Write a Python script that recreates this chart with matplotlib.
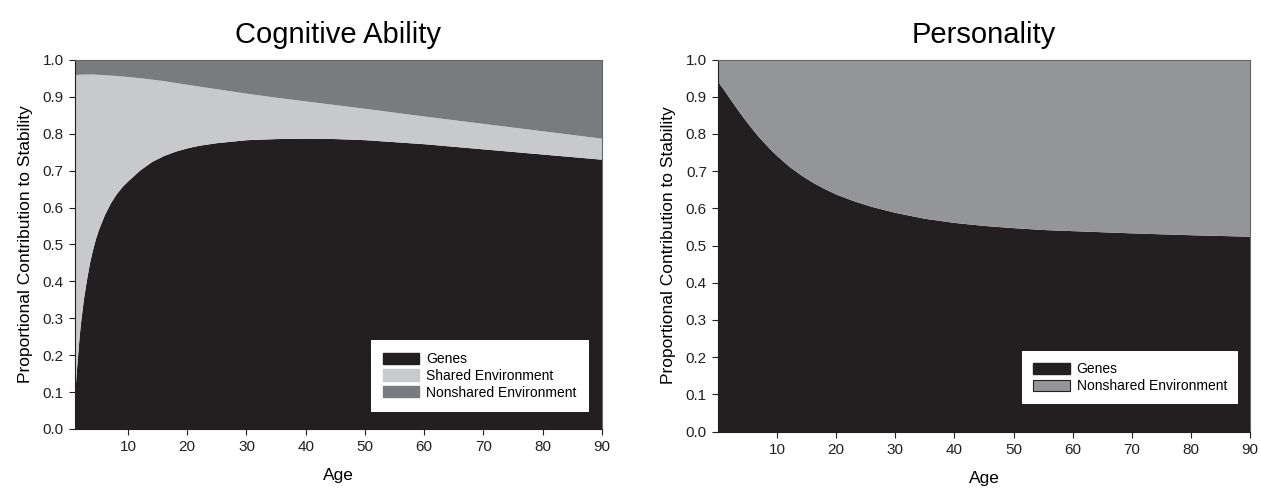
import matplotlib
matplotlib.use("Agg")
import matplotlib.pyplot as plt
from matplotlib.patches import Patch
import numpy as np

# ---- Data: Cognitive Ability ----
cog_age = [1, 1.25, 1.5, 1.75, 2, 2.5, 3, 3.5, 4, 4.5, 5, 6, 7, 8, 9, 10, 12, 14, 16, 18, 20,
           22, 25, 30, 35, 40, 45, 50, 60, 70, 80, 90]
cog_genes = [0.09, 0.15, 0.20, 0.25, 0.29, 0.355, 0.405, 0.45, 0.485, 0.515, 0.54, 0.58, 0.612,
             0.637, 0.657, 0.673, 0.702, 0.725, 0.741, 0.753, 0.762,
             0.769, 0.776, 0.784, 0.787, 0.788, 0.787, 0.784, 0.773, 0.759, 0.745, 0.731]
cog_genes_shared = [0.960, 0.9605, 0.961, 0.9613, 0.9615, 0.962, 0.962, 0.962, 0.962, 0.9615,
                    0.961, 0.960, 0.959, 0.958, 0.9565, 0.955, 0.952, 0.948, 0.944, 0.939, 0.934,
                    0.929, 0.922, 0.910, 0.899, 0.889, 0.879, 0.869, 0.848, 0.828, 0.808, 0.788]

# ---- Data: Personality ----
per_age = [0, 1, 2, 3, 4, 5, 6, 7, 8, 9, 10, 12, 14, 16, 18, 20, 23, 26, 30, 35, 40, 45, 50,
           55, 60, 70, 80, 90]
per_genes = [0.940, 0.918, 0.895, 0.872, 0.850, 0.829, 0.809, 0.790, 0.773, 0.756, 0.741, 0.713,
             0.690, 0.670, 0.653, 0.638, 0.620, 0.605, 0.589, 0.573, 0.562, 0.554, 0.548,
             0.543, 0.540, 0.534, 0.529, 0.525]

cog_labels = ["Genes", "Shared Environment", "Nonshared Environment"]
per_labels = ["Genes", "Nonshared Environment"]
x_ticks = [10, 20, 30, 40, 50, 60, 70, 80, 90]
y_ticks = [0.0, 0.1, 0.2, 0.3, 0.4, 0.5, 0.6, 0.7, 0.8, 0.9, 1.0]

BLACK = "#231f20"
LIGHT = "#c8c9cb"
DARK = "#7a7b7f"
MID = "#939598"

plt.rcParams['font.family'] = ['Liberation Sans', 'DejaVu Sans']

fig = plt.figure(figsize=(12.61, 4.94), dpi=100)
ax1 = fig.add_axes([0.0592, 0.1316, 0.4182, 0.747])
ax2 = fig.add_axes([0.5694, 0.1265, 0.4219, 0.753])


def style(ax, xmin):
    ax.set_xlim(xmin, 90)
    ax.set_ylim(0, 1.0)
    ax.set_xticks(x_ticks)
    ax.set_yticks(y_ticks)
    ax.set_yticklabels([f"{v:.1f}" for v in y_ticks])
    ax.tick_params(direction="out", length=4, width=0.8, labelsize=11, colors="#231f20", pad=4)
    for s in ["top", "right"]:
        ax.spines[s].set_color("#666666")
        ax.spines[s].set_linewidth(0.8)
    for s in ["left", "bottom"]:
        ax.spines[s].set_color("#231f20")
        ax.spines[s].set_linewidth(0.8)
    ax.set_xlabel("Age", fontsize=12.5, labelpad=10)
    ax.set_ylabel("Proportional Contribution to Stability", fontsize=12.5, labelpad=7)


# Cognitive ability
ax1.fill_between(cog_age, 0, cog_genes, color=BLACK, lw=0)
ax1.fill_between(cog_age, cog_genes, cog_genes_shared, color=LIGHT, lw=0)
ax1.fill_between(cog_age, cog_genes_shared, 1.0, color=DARK, lw=0)
style(ax1, 1)
ax1.set_title("Cognitive Ability", fontsize=21, pad=12)
h1 = [Patch(facecolor=BLACK, edgecolor=BLACK), Patch(facecolor=LIGHT, edgecolor=LIGHT),
      Patch(facecolor=DARK, edgecolor=DARK)]
leg1 = ax1.legend(h1, cog_labels, loc="lower right", bbox_to_anchor=(0.9885, 0.027),
                  fontsize=10, frameon=True, fancybox=False, framealpha=1,
                  edgecolor="white", handlelength=2.6, handleheight=0.85,
                  borderpad=0.9, labelspacing=0.2, handletextpad=0.5)

# Personality
ax2.fill_between(per_age, 0, per_genes, color=BLACK, lw=0)
ax2.fill_between(per_age, per_genes, 1.0, color=MID, lw=0)
style(ax2, 0)
ax2.set_title("Personality", fontsize=21, pad=12)
h2 = [Patch(facecolor=BLACK, edgecolor=BLACK), Patch(facecolor=MID, edgecolor=BLACK, linewidth=0.8)]
leg2 = ax2.legend(h2, per_labels, loc="lower right", bbox_to_anchor=(0.9905, 0.055),
                  fontsize=10, frameon=True, fancybox=False, framealpha=1,
                  edgecolor="white", handlelength=2.6, handleheight=0.85,
                  borderpad=0.8, labelspacing=0.2, handletextpad=0.5)
for leg in (leg1, leg2):
    leg.get_frame().set_linewidth(0)

fig.savefig("out.png", dpi=100, facecolor="white")
